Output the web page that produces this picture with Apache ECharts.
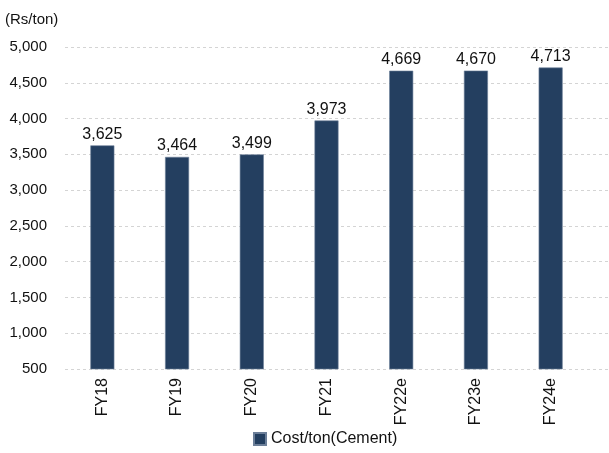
<!DOCTYPE html>
<html>
<head>
<meta charset="utf-8">
<style>
  html, body { margin: 0; padding: 0; background: #fff; }
  #chart { width: 609px; height: 453px; }
</style>
<script src="https://cdn.jsdelivr.net/npm/echarts@6/dist/echarts.min.js"></script>
</head>
<body>
<div id="chart"></div>
<script>
const categories = ['FY18', 'FY19', 'FY20', 'FY21', 'FY22e', 'FY23e', 'FY24e']
const costPerTon = [3625, 3464, 3499, 3973, 4669, 4670, 4713]
const seriesName = 'Cost/ton(Cement)'
const unitLabel = '(Rs/ton)'

const font = '"Liberation Sans", Arial, sans-serif'
const fmt = v => v.toLocaleString('en-US')

const chart = echarts.init(document.getElementById('chart'))
chart.setOption({
  animation: false,
  textStyle: { fontFamily: font },
  graphic: [{
    type: 'text',
    left: 5,
    top: 12,
    style: { text: unitLabel, font: '15px ' + font, fill: '#111' }
  }],
  // second grid only carries the dashed lines, which run to the right edge
  grid: [
    { left: 65, right: 21, top: 47, bottom: 84 },
    { left: 65, right: 0, top: 47, bottom: 84 }
  ],
  legend: {
    bottom: 1,
    left: 248,
    itemWidth: 12,
    itemHeight: 12,
    itemGap: 4,
    icon: 'rect',
    textStyle: { fontSize: 16, color: '#111', fontFamily: font },
    data: [seriesName]
  },
  xAxis: [{
    type: 'category',
    data: categories,
    axisLine: { show: false },
    axisTick: { show: false },
    axisLabel: { rotate: 90, fontSize: 16, color: '#111', margin: 9, fontFamily: font }
  }, {
    type: 'value',
    gridIndex: 1,
    show: false
  }],
  yAxis: [{
    type: 'value',
    min: 500,
    max: 5000,
    interval: 500,
    axisLine: { show: false },
    axisTick: { show: false },
    axisLabel: { fontSize: 15, color: '#111', margin: 18, formatter: fmt, fontFamily: font },
    splitLine: { show: false }
  }, {
    type: 'value',
    gridIndex: 1,
    min: 500,
    max: 5000,
    interval: 500,
    axisLine: { show: false },
    axisTick: { show: false },
    axisLabel: { show: false },
    splitLine: { lineStyle: { type: [3, 3], color: '#d4d4d4' } }
  }],
  series: [{
    name: seriesName,
    type: 'bar',
    barWidth: 24,
    z: 3,
    data: costPerTon,
    itemStyle: { color: '#243f60', borderColor: '#6c7f99', borderWidth: 0.6 },
    label: {
      show: true,
      position: 'top',
      distance: 3,
      fontSize: 16,
      color: '#111',
      fontFamily: font,
      formatter: p => fmt(p.value)
    }
  }]
})
</script>
</body>
</html>
